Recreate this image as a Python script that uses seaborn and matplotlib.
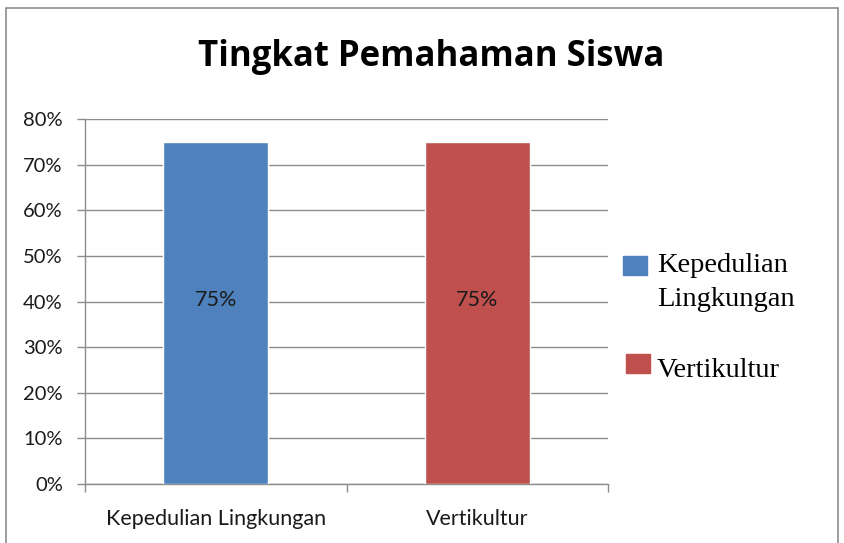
import pandas as pd
import seaborn as sns
import matplotlib.pyplot as plt
import matplotlib.patches as patches
from matplotlib.ticker import FuncFormatter

categories = ['Kepedulian Lingkungan', 'Vertikultur']
legend_lines = [['Kepedulian', 'Lingkungan'], ['Vertikultur']]
values = [75, 75]
bar_colors = ['#4F81BD', '#C0504D']
title = 'Tingkat Pemahaman Siswa'

df = pd.DataFrame({'kategori': categories, 'nilai': values})

sns.set_style('white')
plt.rcParams['font.family'] = ['Lato', 'DejaVu Sans']

fig = plt.figure(figsize=(8.45, 5.43), dpi=100)
ax = fig.add_axes([0.1006, 0.1087, 0.619, 0.672])

sns.barplot(data=df, x='kategori', y='nilai', hue='kategori',
            palette=bar_colors, width=0.4, dodge=False, legend=False,
            saturation=1, ax=ax, zorder=3)

# value labels, a little above the bar middle like the original
for p in ax.patches:
    h = p.get_height()
    ax.annotate(f'{h:.0f}%', (p.get_x() + p.get_width() / 2, h / 2),
                xytext=(0, 9), textcoords='offset points',
                ha='center', va='center', fontsize=15.5, color='#1a1a1a', zorder=4)

ax.set_xlim(-0.5, 1.5)
ax.set_ylim(0, 80)
ax.set_yticks(range(0, 81, 10))
ax.yaxis.set_major_formatter(FuncFormatter(lambda v, p: f'{v:.0f}%'))
ax.grid(axis='y', color='#8C8C8C', linewidth=1, zorder=0)
ax.set_axisbelow(True)
ax.set_xlabel('')
ax.set_ylabel('')

# category boundary ticks on x
ax.set_xticks([-0.5, 0.5, 1.5], minor=True)
ax.set_xticks([0, 1])
ax.tick_params(axis='x', which='major', bottom=False, length=0, pad=18, labelsize=15.5, labelcolor='#1a1a1a')
ax.tick_params(axis='x', which='minor', bottom=True, length=6, width=1, color='#8C8C8C', direction='out')
ax.tick_params(axis='y', left=True, length=6, width=1, color='#8C8C8C', direction='out',
               labelsize=14.5, labelcolor='#1a1a1a', pad=10)

for s in ['top', 'right']:
    ax.spines[s].set_visible(False)
for s in ['left', 'bottom']:
    ax.spines[s].set_color('#8C8C8C')
    ax.spines[s].set_linewidth(1)

fig.text(0.5107, 0.895, title, ha='center', va='center', fontsize=25,
         fontweight='bold', family=['Open Sans', 'DejaVu Sans'], color='black')

# legend: square aligned to first line of each label
legend_font = {'family': 'Liberation Serif', 'size': 20.5, 'color': 'black'}
square_pos = [(623, 256), (626, 354)]
baselines = [272, 377]
for col, (sx, sy), base, lines in zip(bar_colors, square_pos, baselines, legend_lines):
    fig.patches.append(patches.Rectangle((sx / 845, 1 - (sy + 19) / 543), 24 / 845, 19 / 543,
                                         transform=fig.transFigure, facecolor=col, edgecolor=col))
    for i, line in enumerate(lines):
        fig.text(657 / 845, 1 - (base + 34 * i) / 543, line, ha='left', va='baseline', **legend_font)

fig.patches.append(patches.Rectangle((0.007, -0.01), 0.985, 0.995, transform=fig.transFigure,
                                     fill=False, edgecolor='#8C8C8C', linewidth=1.2))

fig.savefig('out.png', dpi=100)
